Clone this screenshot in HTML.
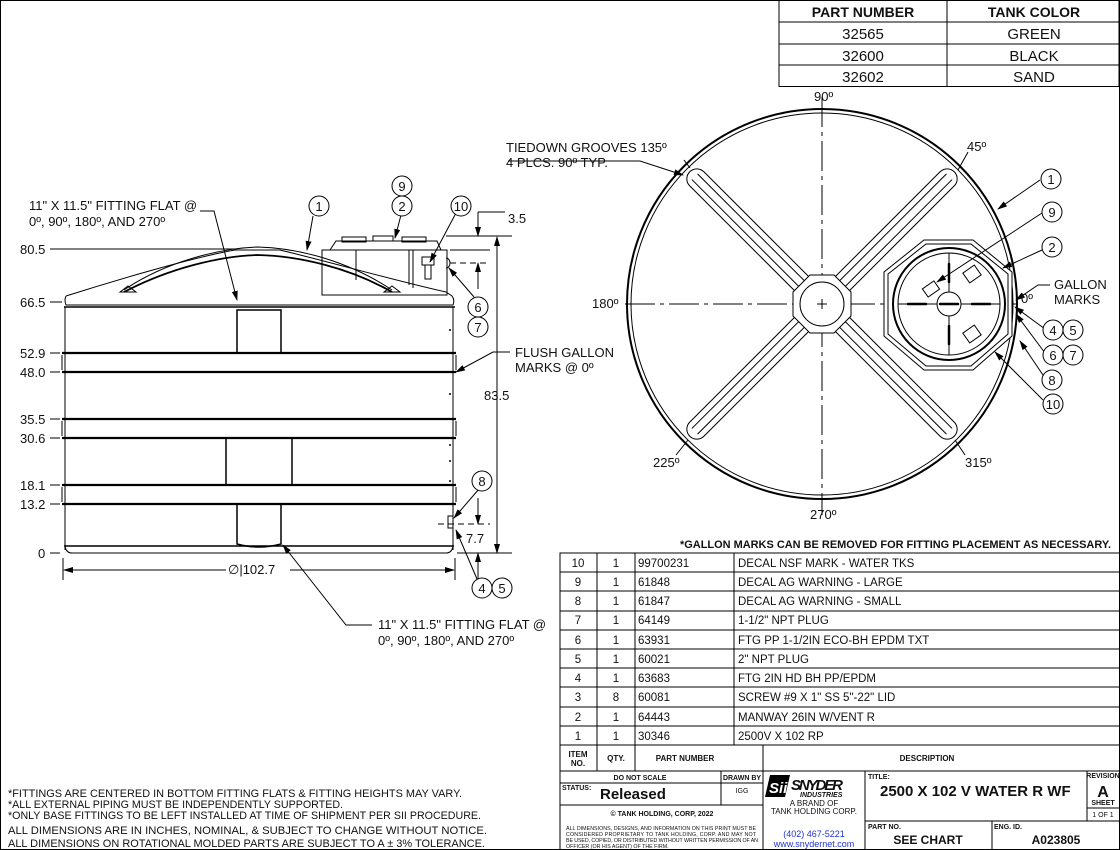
<!DOCTYPE html>
<html><head><meta charset="utf-8"><style>
html,body{margin:0;padding:0;background:#fff}
svg{display:block}
text{font-family:"Liberation Sans",sans-serif;fill:#111}
</style></head><body>
<svg width="1120" height="850" viewBox="0 0 1120 850" xmlns="http://www.w3.org/2000/svg">
<defs>
<marker id="ar" markerWidth="10" markerHeight="6" refX="9" refY="3" orient="auto" markerUnits="userSpaceOnUse"><path d="M0,0 L10,3 L0,6z" fill="#000"/></marker>
</defs>
<rect x="0.5" y="0.5" width="1119" height="849" fill="none" stroke="#000"/>

<!-- top part number table -->
<g stroke="#000" fill="none">
<rect x="779" y="0.5" width="340" height="86"/>
<line x1="779" y1="22" x2="1120" y2="22"/><line x1="779" y1="44" x2="1120" y2="44"/><line x1="779" y1="65" x2="1120" y2="65"/>
<line x1="947" y1="0" x2="947" y2="87"/>
</g>
<g font-size="15" text-anchor="middle">
<text x="863" y="17" font-weight="bold" font-size="14">PART NUMBER</text><text x="1034" y="17" font-weight="bold" font-size="14">TANK COLOR</text>
<text x="863" y="39">32565</text><text x="1034" y="39">GREEN</text>
<text x="863" y="61">32600</text><text x="1034" y="61">BLACK</text>
<text x="863" y="82">32602</text><text x="1034" y="82">SAND</text>
</g>

<!-- FRONT VIEW -->
<g stroke="#000" fill="none" stroke-width="1">
<!-- manway housing -->
<rect x="322" y="250" width="125" height="45" fill="#fff"/>
<path d="M330,250 L336,241 L437,241 L441,250"/>
<rect x="342" y="237" width="24" height="5"/><rect x="373" y="236" width="20" height="5"/><rect x="402" y="237" width="24" height="5"/>
<line x1="356" y1="250" x2="356" y2="280"/><line x1="409" y1="250" x2="409" y2="285"/><line x1="413" y1="250" x2="413" y2="288"/>
<rect x="422" y="257" width="12" height="8"/><rect x="425" y="265" width="6" height="14"/>
<path d="M446,258 a4,5 0 0 1 0,10"/>
<!-- dome -->
<path d="M66,296 C110,282 190,258 235,250 L280,250 C330,262 400,282 446,292"/>
<path d="M66,296 Q64,300 66,305 L453,305 Q455,300 452,296 L446,292"/>
<line x1="64" y1="307" x2="455" y2="307" stroke-width="1.5"/>
<!-- arch ribs -->
<path d="M124,292 C170,268 220,256 258,255 C300,256 350,268 392,292" stroke-width="1.8"/>
<path d="M124,290 C165,262 220,248 258,247 C300,248 350,262 392,290"/>
<path d="M120,292 l8,-6 l8,6z"/><path d="M384,292 l8,-6 l8,6z"/>
<!-- body sides -->
<line x1="65" y1="307" x2="65" y2="550"/><line x1="453" y1="307" x2="453" y2="550"/>
<!-- ribs -->
<g stroke-width="2.2">
<line x1="62" y1="353" x2="456" y2="353"/><line x1="62" y1="372" x2="456" y2="372"/>
<line x1="62" y1="419" x2="456" y2="419"/><line x1="62" y1="438" x2="456" y2="438"/>
<line x1="62" y1="485" x2="456" y2="485"/><line x1="62" y1="504" x2="456" y2="504"/>
</g>
<path d="M62,355 L62,370 M456,355 L456,370 M62,421 L62,436 M456,421 L456,436 M62,487 L62,502 M456,487 L456,502"/>
<!-- base -->
<line x1="64" y1="546" x2="454" y2="546" stroke-width="1.5"/>
<path d="M65,546 Q66,553 72,553 L446,553 Q452,553 453,546"/>
<!-- fitting flats -->
<rect x="237" y="310" width="44" height="43" stroke-width="1.5"/>
<rect x="226" y="438" width="66" height="47" stroke-width="1.5"/>
<path d="M237,504 L237,544 Q259,550 281,544 L281,504" stroke-width="1.5"/>
<!-- gallon mark ticks -->
<g stroke-width="1.5"><line x1="450" y1="329" x2="450" y2="331"/><line x1="450" y1="393" x2="450" y2="395"/><line x1="450" y1="460" x2="450" y2="462"/><line x1="450" y1="480" x2="450" y2="482"/><line x1="450" y1="444" x2="450" y2="446"/></g>
<rect x="448" y="516" width="5" height="12"/>
<!-- left dims -->
<line x1="50" y1="249" x2="235" y2="249"/>
<line x1="50" y1="302" x2="62" y2="302"/><line x1="50" y1="353" x2="60" y2="353"/><line x1="50" y1="372" x2="60" y2="372"/>
<line x1="50" y1="419" x2="60" y2="419"/><line x1="50" y1="438" x2="60" y2="438"/><line x1="50" y1="485" x2="60" y2="485"/><line x1="50" y1="504" x2="60" y2="504"/><line x1="50" y1="553" x2="60" y2="553"/>
<!-- right dims -->
<line x1="446" y1="236" x2="512" y2="236"/><line x1="450" y1="250" x2="490" y2="250"/>
<line x1="450" y1="263" x2="490" y2="263" stroke-dasharray="6,4"/>
<line x1="478" y1="220" x2="478" y2="236" marker-end="url(#ar)"/><line x1="478" y1="212" x2="478" y2="220"/><line x1="478" y1="212" x2="505" y2="212"/>
<line x1="478" y1="289" x2="478" y2="263" marker-end="url(#ar)"/>
<line x1="497" y1="553" x2="497" y2="237" marker-end="url(#ar)"/><line x1="497" y1="237" x2="497" y2="553" marker-end="url(#ar)"/>
<line x1="457" y1="553" x2="512" y2="553"/>
<line x1="438" y1="524" x2="490" y2="524" stroke-dasharray="6,4"/>
<line x1="478" y1="498" x2="478" y2="524" marker-end="url(#ar)"/>
<line x1="478" y1="580" x2="478" y2="553" marker-end="url(#ar)"/>
<!-- diameter -->
<line x1="63" y1="558" x2="63" y2="580"/><line x1="455" y1="558" x2="455" y2="580"/>
<line x1="226" y1="570" x2="64" y2="570" marker-end="url(#ar)"/><line x1="290" y1="570" x2="454" y2="570" marker-end="url(#ar)"/>
<!-- leaders -->
<path d="M200,211 L214,211 L237,300" marker-end="url(#ar)"/>
<line x1="313" y1="216" x2="307" y2="250" marker-end="url(#ar)"/>
<line x1="401" y1="215" x2="395" y2="238" marker-end="url(#ar)"/>
<line x1="456" y1="213" x2="430" y2="262" marker-end="url(#ar)"/>
<line x1="474" y1="297" x2="449" y2="268" marker-end="url(#ar)"/>
<path d="M510,352 L493,352 L456,372" marker-end="url(#ar)"/>
<line x1="479" y1="489" x2="454" y2="518" marker-end="url(#ar)"/>
<line x1="477" y1="579" x2="456" y2="530" marker-end="url(#ar)"/>
<path d="M372,625 L346,625 L283,545" marker-end="url(#ar)"/>
</g>
<g font-size="13">
<text x="20" y="254">80.5</text><text x="20" y="307">66.5</text><text x="20" y="358">52.9</text><text x="20" y="377">48.0</text>
<text x="20" y="424">35.5</text><text x="20" y="443">30.6</text><text x="20" y="490">18.1</text><text x="20" y="509">13.2</text><text x="38" y="558">0</text>
<text x="29" y="210">11" X 11.5" FITTING FLAT @</text><text x="29" y="226">0º, 90º, 180º, AND 270º</text>
<text x="508" y="223">3.5</text><text x="484" y="400">83.5</text><text x="466" y="543">7.7</text>
<text x="228" y="574">∅|102.7</text>
<text x="515" y="357">FLUSH GALLON</text><text x="515" y="372">MARKS @ 0º</text>
<text x="378" y="629">11" X 11.5" FITTING FLAT @</text><text x="378" y="645">0º, 90º, 180º, AND 270º</text>
</g>
<g stroke="#000" fill="#fff">
<circle cx="319" cy="206" r="10"/><circle cx="402" cy="186" r="10"/><circle cx="402" cy="206" r="10"/><circle cx="461" cy="206" r="10"/>
<circle cx="478" cy="307" r="10"/><circle cx="478" cy="327" r="10"/><circle cx="482" cy="481" r="10"/><circle cx="482" cy="588" r="10"/><circle cx="502" cy="588" r="10"/>
</g>
<g font-size="13" text-anchor="middle">
<text x="319" y="211">1</text><text x="402" y="191">9</text><text x="402" y="211">2</text><text x="461" y="211">10</text>
<text x="478" y="312">6</text><text x="478" y="332">7</text><text x="482" y="486">8</text><text x="482" y="593">4</text><text x="502" y="593">5</text>
</g>

<!-- TOP VIEW -->
<g stroke="#000" fill="none">
<circle cx="822" cy="304" r="195" stroke-width="2"/>
<circle cx="822" cy="304" r="191"/>
<line x1="822" y1="97" x2="822" y2="515" stroke-dasharray="30,5,4,5"/>
<line x1="625" y1="304" x2="1020" y2="304" stroke-dasharray="30,5,4,5"/>
<g transform="translate(822,304)">
<g transform="rotate(45)"><rect x="-187" y="-10" width="374" height="20" rx="10" fill="#fff"/><line x1="-180" y1="-4" x2="180" y2="-4"/><line x1="-180" y1="4" x2="180" y2="4"/></g>
<g transform="rotate(-45)"><rect x="-187" y="-10" width="374" height="20" rx="10" fill="#fff"/><line x1="-180" y1="-4" x2="180" y2="-4"/><line x1="-180" y1="4" x2="180" y2="4"/></g>
<polygon points="-12,-29 12,-29 29,-12 29,12 12,29 -12,29 -29,12 -29,-12" fill="#fff"/>
<circle r="22"/>
<line x1="-5" y1="0" x2="5" y2="0"/><line x1="0" y1="-5" x2="0" y2="5"/>
</g>
<polygon points="924,240 973,240 1012,272 1012,336 973,370 924,370 884,336 884,272" fill="#fff"/>
<polygon points="926,244 971,244 1008,274 1008,334 971,366 926,366 888,334 888,274"/>
<circle cx="949" cy="304" r="56" stroke-width="2" fill="#fff"/>
<circle cx="949" cy="304" r="51"/>
<line x1="949" y1="253" x2="949" y2="355"/><line x1="898" y1="304" x2="1000" y2="304"/>
<circle cx="949" cy="304" r="12" fill="#fff"/>
<g stroke-width="2.5" stroke-linecap="round"><line x1="949" y1="264" x2="949" y2="282"/><line x1="949" y1="326" x2="949" y2="344"/><line x1="908" y1="304" x2="926" y2="304"/><line x1="972" y1="304" x2="990" y2="304"/><line x1="940" y1="304" x2="958" y2="304"/></g>
<rect x="965" y="268" width="14" height="12" transform="rotate(-35 972 274)"/><rect x="965" y="328" width="14" height="12" transform="rotate(-35 972 334)"/>
<rect x="924" y="284" width="14" height="10" transform="rotate(-35 931 289)"/>
<!-- leaders -->
<path d="M508,161 L640,161 L683,175" marker-end="url(#ar)"/>
<line x1="1040" y1="180" x2="998" y2="209" marker-end="url(#ar)"/>
<line x1="1042" y1="213" x2="937" y2="282" marker-end="url(#ar)"/>
<line x1="1042" y1="250" x2="1003" y2="268" marker-end="url(#ar)"/>
<path d="M1050,285 L1038,285 L1016,300" marker-end="url(#ar)"/>
<line x1="1045" y1="329" x2="1015" y2="307" marker-end="url(#ar)"/>
<line x1="1045" y1="353" x2="1016" y2="314" marker-end="url(#ar)"/>
<line x1="1045" y1="378" x2="1020" y2="341" marker-end="url(#ar)"/>
<line x1="1043" y1="400" x2="995" y2="352" marker-end="url(#ar)"/>
<line x1="684" y1="160" x2="690" y2="168"/><line x1="968" y1="152" x2="958" y2="170"/>
<line x1="676" y1="455" x2="688" y2="440"/><line x1="965" y1="455" x2="955" y2="440"/>
</g>
<g stroke="#000" fill="#fff">
<circle cx="1051" cy="179" r="10"/><circle cx="1052" cy="212" r="10"/><circle cx="1052" cy="247" r="10"/>
<circle cx="1053" cy="330" r="10"/><circle cx="1073" cy="330" r="10"/><circle cx="1053" cy="355" r="10"/><circle cx="1073" cy="355" r="10"/>
<circle cx="1052" cy="380" r="10"/><circle cx="1053" cy="404" r="10"/>
</g>
<g font-size="13" text-anchor="middle">
<text x="1051" y="184">1</text><text x="1052" y="217">9</text><text x="1052" y="252">2</text>
<text x="1053" y="335">4</text><text x="1073" y="335">5</text><text x="1053" y="360">6</text><text x="1073" y="360">7</text>
<text x="1052" y="385">8</text><text x="1053" y="409">10</text>
</g>
<g font-size="13">
<text x="814" y="101">90º</text><text x="967" y="151">45º</text><text x="1021" y="303">0º</text>
<text x="592" y="308">180º</text><text x="653" y="467">225º</text><text x="965" y="467">315º</text><text x="810" y="519">270º</text>
<text x="506" y="152">TIEDOWN GROOVES  135º</text><text x="506" y="167">4 PLCS. 90º TYP.</text>
<text x="1054" y="289">GALLON</text><text x="1054" y="304">MARKS</text>
<text x="680" y="548" font-size="11" font-weight="bold" textLength="431" lengthAdjust="spacingAndGlyphs">*GALLON MARKS CAN BE REMOVED FOR FITTING PLACEMENT AS NECESSARY.</text>
</g>

<!-- BOM -->
<g stroke="#000" fill="none">
<rect x="560" y="553" width="560" height="297"/>
<line x1="560" y1="572" x2="1120" y2="572"/><line x1="560" y1="591" x2="1120" y2="591"/><line x1="560" y1="611" x2="1120" y2="611"/>
<line x1="560" y1="630" x2="1120" y2="630"/><line x1="560" y1="649" x2="1120" y2="649"/><line x1="560" y1="668" x2="1120" y2="668"/>
<line x1="560" y1="687" x2="1120" y2="687"/><line x1="560" y1="707" x2="1120" y2="707"/><line x1="560" y1="726" x2="1120" y2="726"/>
<line x1="560" y1="745" x2="1120" y2="745"/><line x1="560" y1="771" x2="1120" y2="771"/>
<line x1="597" y1="553" x2="597" y2="771"/><line x1="635" y1="553" x2="635" y2="771"/><line x1="734" y1="553" x2="734" y2="745"/>
<line x1="763" y1="745" x2="763" y2="850"/><line x1="865" y1="771" x2="865" y2="850"/><line x1="1087" y1="771" x2="1087" y2="821"/>
<line x1="560" y1="783" x2="763" y2="783"/><line x1="560" y1="805" x2="763" y2="805"/><line x1="721" y1="771" x2="721" y2="805"/>
<line x1="865" y1="821" x2="1120" y2="821"/><line x1="992" y1="821" x2="992" y2="850"/><line x1="1087" y1="808" x2="1120" y2="808"/>
</g>
<g font-size="11.5">
<g text-anchor="middle">
<text x="578" y="567">10</text><text x="578" y="586">9</text><text x="578" y="605">8</text><text x="578" y="624">7</text><text x="578" y="644">6</text>
<text x="578" y="663">5</text><text x="578" y="682">4</text><text x="578" y="701">3</text><text x="578" y="721">2</text><text x="578" y="740">1</text>
<text x="616" y="567">1</text><text x="616" y="586">1</text><text x="616" y="605">1</text><text x="616" y="624">1</text><text x="616" y="644">1</text>
<text x="616" y="663">1</text><text x="616" y="682">1</text><text x="616" y="701">8</text><text x="616" y="721">1</text><text x="616" y="740">1</text>
</g>
<text x="638" y="567">99700231</text><text x="638" y="586">61848</text><text x="638" y="605">61847</text><text x="638" y="624">64149</text><text x="638" y="644">63931</text>
<text x="638" y="663">60021</text><text x="638" y="682">63683</text><text x="638" y="701">60081</text><text x="638" y="721">64443</text><text x="638" y="740">30346</text>
<text x="738" y="567">DECAL NSF MARK - WATER TKS</text><text x="738" y="586">DECAL AG WARNING - LARGE</text><text x="738" y="605">DECAL AG WARNING - SMALL</text>
<text x="738" y="624">1-1/2" NPT PLUG</text><text x="738" y="644">FTG PP 1-1/2IN ECO-BH EPDM TXT</text><text x="738" y="663">2" NPT PLUG</text>
<text x="738" y="682">FTG 2IN HD BH PP/EPDM</text><text x="738" y="701">SCREW #9 X 1" SS 5"-22" LID</text><text x="738" y="721">MANWAY 26IN W/VENT R</text><text x="738" y="740">2500V X 102 RP</text>
</g>
<g font-size="8" font-weight="bold" text-anchor="middle">
<text x="578" y="757">ITEM</text><text x="578" y="766">NO.</text><text x="616" y="761">QTY.</text><text x="685" y="761">PART NUMBER</text><text x="927" y="761">DESCRIPTION</text>
<text x="640" y="780" font-size="7">DO NOT SCALE</text><text x="742" y="780" font-size="7">DRAWN BY</text>
<text x="662" y="816" font-size="7">© TANK HOLDING, CORP, 2022</text>
<text x="1103" y="778" font-size="7">REVISION</text><text x="1103" y="805" font-size="7">SHEET</text>
</g>
<g font-size="7" font-weight="bold"><text x="562" y="790">STATUS:</text><text x="868" y="779">TITLE:</text><text x="868" y="829">PART NO.</text><text x="994" y="829">ENG. ID.</text></g>
<text x="600" y="799" font-size="15" font-weight="bold">Released</text>
<text x="742" y="793" font-size="7" text-anchor="middle">IGG</text>
<text x="1103" y="817" font-size="7" text-anchor="middle">1 OF 1</text>
<g font-size="5.3"><text x="566" y="830" textLength="190">ALL DIMENSIONS, DESIGNS, AND INFORMATION ON THIS PRINT MUST BE</text><text x="566" y="836" textLength="190">CONSIDERED PROPRIETARY TO TANK HOLDING, CORP. AND MAY NOT</text><text x="566" y="842" textLength="192">BE USED, COPIED, OR DISTRIBUTED WITHOUT WRITTEN PERMISSION OF AN</text><text x="566" y="848">OFFICER (OR HIS AGENT) OF THE FIRM.</text></g>
<text x="880" y="796" font-size="15" font-weight="bold">2500 X 102 V WATER R WF</text>
<text x="1103" y="797" font-size="16" font-weight="bold" text-anchor="middle">A</text>
<text x="928" y="844" font-size="12" font-weight="bold" text-anchor="middle">SEE CHART</text>
<text x="1056" y="844" font-size="12" font-weight="bold" text-anchor="middle">A023805</text>
<g>
<polygon points="770,775 790,775 785,797 765,797" fill="#000"/>
<text x="769" y="793" font-size="15" font-weight="bold" font-style="italic" style="fill:#fff">Sii</text>
<text x="791" y="790" font-size="15" font-weight="bold" font-style="italic" textLength="52">SNYDER</text>
<text x="800" y="797" font-size="7" font-weight="bold" font-style="italic">INDUSTRIES</text>
<text x="814" y="806" font-size="8" text-anchor="middle">A BRAND OF</text>
<text x="814" y="814" font-size="8" text-anchor="middle">TANK HOLDING CORP.</text>
<text x="814" y="837" font-size="9" text-anchor="middle" style="fill:#2233cc">(402) 467-5221</text>
<text x="814" y="847" font-size="9" text-anchor="middle" style="fill:#2233cc">www.snydernet.com</text>
</g>
<g font-size="11">
<text x="8" y="797" textLength="454" lengthAdjust="spacingAndGlyphs">*FITTINGS ARE CENTERED IN BOTTOM FITTING FLATS &amp; FITTING HEIGHTS MAY VARY.</text>
<text x="8" y="808" textLength="335" lengthAdjust="spacingAndGlyphs">*ALL EXTERNAL PIPING MUST BE INDEPENDENTLY SUPPORTED.</text>
<text x="8" y="819" textLength="473" lengthAdjust="spacingAndGlyphs">*ONLY BASE FITTINGS TO BE LEFT INSTALLED AT TIME OF SHIPMENT PER SII PROCEDURE.</text>
<text x="8" y="834" textLength="479" lengthAdjust="spacingAndGlyphs">ALL DIMENSIONS ARE IN INCHES, NOMINAL, &amp; SUBJECT TO CHANGE WITHOUT NOTICE.</text>
<text x="8" y="847" textLength="477" lengthAdjust="spacingAndGlyphs">ALL DIMENSIONS ON ROTATIONAL MOLDED PARTS ARE SUBJECT TO A ± 3% TOLERANCE.</text>
</g>
</svg>
</body></html>
